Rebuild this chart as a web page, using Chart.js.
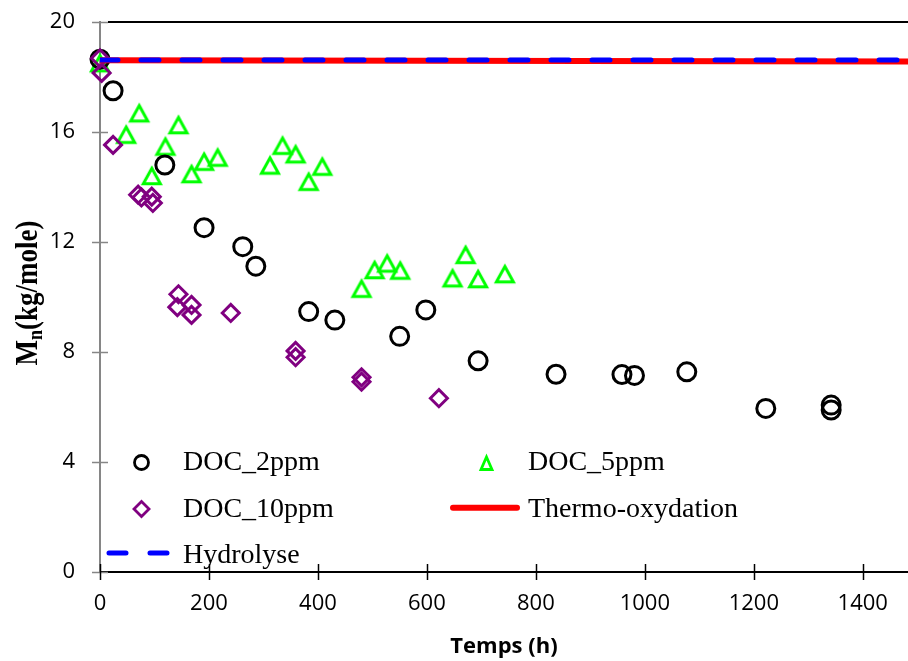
<!DOCTYPE html>
<html>
<head>
<meta charset="utf-8">
<script src="https://cdn.jsdelivr.net/npm/chart.js@4.4.1/dist/chart.umd.min.js"></script>
<style>
  html, body { margin: 0; padding: 0; background: #fff; }
</style>
</head>
<body>
<canvas id="chart" width="908" height="661"></canvas>
<script>
// données : temps (h) et Mn (kg/mole)
const tDoc2  = [0, 24, 119, 191, 262, 286, 383, 431, 550, 598, 694, 837, 958, 981, 1077, 1222, 1342, 1342];
const mnDoc2 = [18.65, 17.5, 14.8, 12.52, 11.83, 11.12, 9.47, 9.16, 8.57, 9.53, 7.68, 7.19, 7.18, 7.15, 7.28, 5.95, 6.07, 5.89];

const tDoc5  = [0, 48, 72, 95, 120, 144, 168, 191, 216, 312, 335, 359, 383, 408, 480, 504, 527, 551, 647, 671, 694, 743];
const mnDoc5 = [18.5, 15.9, 16.68, 14.4, 15.47, 16.25, 14.47, 14.92, 15.07, 14.78, 15.5, 15.19, 14.19, 14.74, 10.3, 10.98, 11.22, 10.96, 10.68, 11.53, 10.65, 10.83];

const tDoc10  = [0, 3, 24, 70, 76, 95, 97, 144, 142, 168, 168, 240, 359, 359, 480, 480, 622];
const mnDoc10 = [18.68, 18.15, 15.53, 13.72, 13.62, 13.65, 13.42, 10.1, 9.63, 9.71, 9.35, 9.42, 8.04, 7.81, 7.08, 6.92, 6.32];

const tLines      = [0, 1483];
const mnHydrolyse = [18.62, 18.62];
const mnThermo    = [18.61, 18.56];

const xTicks = [0, 200, 400, 600, 800, 1000, 1200, 1400];
const yTicks = [0, 4, 8, 12, 16, 20];

const legendItems = [
  { label: "DOC_2ppm", kind: "circle", color: "#000000", col: 0, row: 0 },
  { label: "DOC_5ppm", kind: "triangle", color: "#00ff00", col: 1, row: 0 },
  { label: "DOC_10ppm", kind: "diamond", color: "#800080", col: 0, row: 1 },
  { label: "Thermo-oxydation", kind: "line", color: "#ff0000", col: 1, row: 1 },
  { label: "Hydrolyse", kind: "dash", color: "#0000ff", col: 0, row: 2 }
];

function toPoints(xs, ys) {
  return xs.map((x, i) => ({ x: x, y: ys[i] }));
}

// triangle centré dans sa boîte (comme Excel)
function makeTriangle(w, h, lw, color) {
  const c = document.createElement("canvas");
  c.width = 28; c.height = 28;
  const g = c.getContext("2d");
  g.strokeStyle = color;
  g.lineWidth = lw;
  g.lineJoin = "miter";
  g.beginPath();
  g.moveTo(14, 14 - h / 2);
  g.lineTo(14 + w / 2, 14 + h / 2);
  g.lineTo(14 - w / 2, 14 + h / 2);
  g.closePath();
  g.stroke();
  return c;
}
const triangleImg = makeTriangle(17, 15.5, 3, "#00ff00");

const axisGray = "#868686";

const decorPlugin = {
  id: "decor",
  afterDraw(chart) {
    const ctx = chart.ctx;
    const xs = chart.scales.x, ys = chart.scales.y;
    const area = chart.chartArea;
    ctx.save();

    // cadre supérieur
    ctx.strokeStyle = "#000";
    ctx.lineWidth = 2;
    ctx.beginPath();
    ctx.moveTo(area.left + 8, area.top);
    ctx.lineTo(area.right, area.top);
    ctx.stroke();

    // graduations traversant les axes
    ctx.lineWidth = 1.5;
    ctx.strokeStyle = axisGray;
    yTicks.forEach(v => {
      const py = Math.round(ys.getPixelForValue(v)) + 0.5;
      ctx.beginPath();
      ctx.moveTo(area.left - 8, py);
      ctx.lineTo(area.left + 8, py);
      ctx.stroke();
    });
    ctx.strokeStyle = "#000";
    xTicks.forEach(v => {
      const px = Math.round(xs.getPixelForValue(v)) + 0.5;
      ctx.beginPath();
      ctx.moveTo(px, area.bottom - 8);
      ctx.lineTo(px, area.bottom + 8);
      ctx.stroke();
    });

    // titre de l'axe Y avec indice
    ctx.translate(37, 293);
    ctx.rotate(-Math.PI / 2);
    ctx.scale(1, 1.2);
    ctx.fillStyle = "#000";
    ctx.textBaseline = "alphabetic";
    const big = "bold 27px 'Liberation Serif'";
    const small = "bold 18px 'Liberation Serif'";
    ctx.font = big;
    const wM = ctx.measureText("M").width;
    const wRest = ctx.measureText("(kg/mole)").width;
    ctx.font = small;
    const wn = ctx.measureText("n").width;
    let x0 = -(wM + wn + wRest) / 2;
    ctx.font = big;
    ctx.fillText("M", x0, 0);
    ctx.font = small;
    ctx.fillText("n", x0 + wM, 4);
    ctx.font = big;
    ctx.fillText("(kg/mole)", x0 + wM + wn, 0);
    ctx.restore();

    // légende
    ctx.save();
    const colText = [183, 528];
    const colMark = [141.5, 486.5];
    const rowBase = [470, 516.7, 563.3];
    const rowMid = [462.5, 509, 553];
    ctx.font = "28px 'Liberation Serif'";
    ctx.fillStyle = "#000";
    ctx.textBaseline = "alphabetic";
    legendItems.forEach(it => {
      const mx = colMark[it.col], my = rowMid[it.row];
      ctx.strokeStyle = it.color;
      if (it.kind === "circle") {
        ctx.lineWidth = 2.8;
        ctx.beginPath();
        ctx.arc(mx, my, 7, 0, Math.PI * 2);
        ctx.stroke();
      } else if (it.kind === "diamond") {
        ctx.lineWidth = 2.8;
        ctx.beginPath();
        ctx.moveTo(mx, my - 7.5);
        ctx.lineTo(mx + 7.5, my);
        ctx.lineTo(mx, my + 7.5);
        ctx.lineTo(mx - 7.5, my);
        ctx.closePath();
        ctx.stroke();
      } else if (it.kind === "triangle") {
        ctx.lineWidth = 2.8;
        ctx.beginPath();
        ctx.moveTo(mx, my - 5.5);
        ctx.lineTo(mx + 5.5, my + 7);
        ctx.lineTo(mx - 5.5, my + 7);
        ctx.closePath();
        ctx.stroke();
      } else if (it.kind === "line") {
        ctx.lineWidth = 6;
        ctx.lineCap = "round";
        ctx.beginPath();
        ctx.moveTo(453, 507.7);
        ctx.lineTo(517, 507.7);
        ctx.stroke();
      } else if (it.kind === "dash") {
        ctx.lineWidth = 5;
        ctx.lineCap = "round";
        ctx.beginPath();
        ctx.moveTo(109, my); ctx.lineTo(126, my);
        ctx.moveTo(150, my); ctx.lineTo(167, my);
        ctx.stroke();
      }
      ctx.fillText(it.label, colText[it.col], rowBase[it.row]);
    });
    ctx.restore();
  }
};

new Chart(document.getElementById("chart"), {
  type: "scatter",
  data: {
    datasets: [
      {
        label: "Hydrolyse",
        type: "line",
        data: toPoints(tLines, mnHydrolyse),
        borderColor: "#0000ff",
        borderWidth: 5,
        borderDash: [18, 23],
        borderCapStyle: "round",
        pointRadius: 0,
        fill: false,
        order: 0
      },
      {
        label: "Thermo-oxydation",
        type: "line",
        data: toPoints(tLines, mnThermo),
        borderColor: "#ff0000",
        borderWidth: 6,
        pointRadius: 0,
        fill: false,
        order: 1
      },
      {
        label: "DOC_10ppm",
        data: toPoints(tDoc10, mnDoc10),
        pointStyle: "rectRot",
        pointRadius: 8.5,
        borderWidth: 3,
        borderColor: "#800080",
        backgroundColor: "rgba(0,0,0,0)",
        clip: false,
        order: 2
      },
      {
        label: "DOC_2ppm",
        data: toPoints(tDoc2, mnDoc2),
        pointStyle: "circle",
        pointRadius: 9,
        borderWidth: 3,
        borderColor: "#000000",
        backgroundColor: "rgba(0,0,0,0)",
        clip: false,
        order: 3
      },
      {
        label: "DOC_5ppm",
        data: toPoints(tDoc5, mnDoc5),
        pointStyle: triangleImg,
        pointRadius: 10,
        clip: false,
        order: 4
      }
    ]
  },
  options: {
    responsive: false,
    animation: false,
    layout: { autoPadding: false, padding: { top: 22, right: 0, left: 0, bottom: 0 } },
    plugins: {
      legend: { display: false },
      tooltip: { enabled: false }
    },
    scales: {
      x: {
        type: "linear",
        min: 0,
        max: 1483,
        afterBuildTicks: s => { s.ticks = xTicks.map(v => ({ value: v })); },
        afterFit: s => { s.height = 89; s.paddingLeft = 0; s.paddingRight = 0; },
        grid: { display: false, drawTicks: false },
        border: { display: true, color: "#000", width: 2 },
        ticks: {
          padding: 19,
          maxRotation: 0,
          color: "#000",
          font: { family: "'Open Sans'", size: 22 },
          callback: v => String(v)
        },
        title: {
          display: true,
          text: "Temps (h)",
          color: "#000",
          font: { family: "'Open Sans'", size: 22, weight: "bold" },
          padding: { top: 0, bottom: 1 }
        }
      },
      y: {
        type: "linear",
        min: 0,
        max: 20,
        afterBuildTicks: s => { s.ticks = yTicks.map(v => ({ value: v })); },
        afterFit: s => { s.width = 100; s.paddingTop = 0; s.paddingBottom = 0; },
        grid: { display: false, drawTicks: false },
        border: { display: true, color: axisGray, width: 2 },
        ticks: {
          padding: 25,
          color: "#000",
          font: { family: "'Open Sans'", size: 22 },
          callback: v => String(v)
        }
      }
    }
  },
  plugins: [decorPlugin]
});
</script>
</body>
</html>
